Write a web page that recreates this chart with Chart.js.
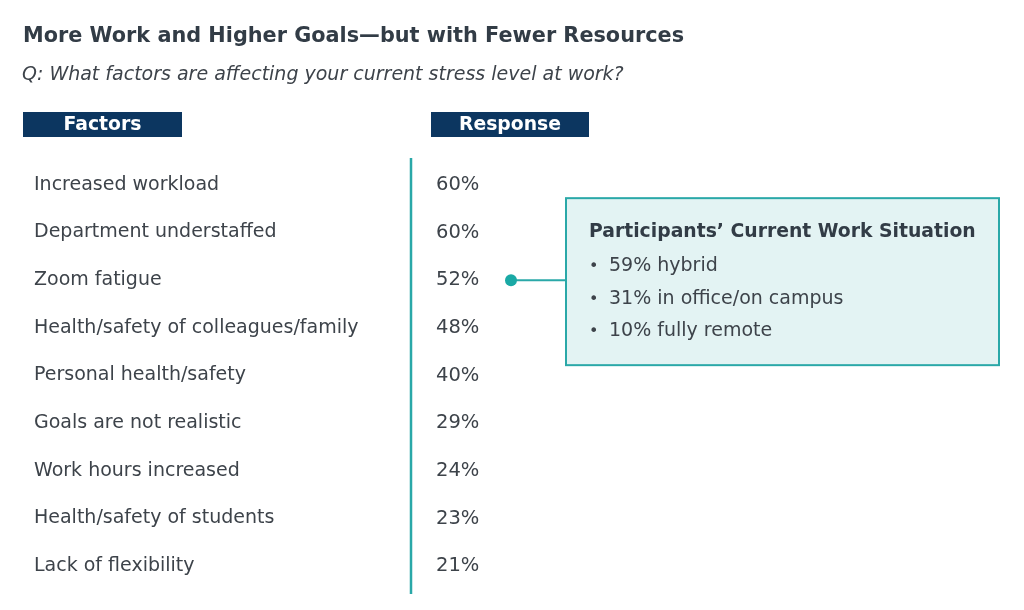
<!DOCTYPE html>
<html>
<head>
<meta charset="utf-8">
<script src="https://cdn.jsdelivr.net/npm/chart.js@4"></script>
<style>
  html, body { margin: 0; padding: 0; background: #fff; }
  #wrap { width: 1024px; height: 610px; position: relative; }
</style>
</head>
<body>
<div id="wrap"><canvas id="grafico"></canvas></div>
<script>
// Datos de la encuesta
const factores = [
    "Increased workload",
    "Department understaffed",
    "Zoom fatigue",
    "Health/safety of colleagues/family",
    "Personal health/safety",
    "Goals are not realistic",
    "Work hours increased",
    "Health/safety of students",
    "Lack of flexibility"
];
const respuestas = [60, 60, 52, 48, 40, 29, 24, 23, 21];

// Recuadro lateral
const situacionTitulo = "Participants\u2019 Current Work Situation";
const situacionItems = ["59% hybrid", "31% in office/on campus", "10% fully remote"];
const filaDestacada = "Zoom fatigue";

const titulo = "More Work and Higher Goals\u2014but with Fewer Resources";
const subtitulo = "Q: What factors are affecting your current stress level at work?";
const encabezados = ["Factors", "Response"];

const FUENTE = "'DejaVu Sans', Verdana, sans-serif";
const TEXTO = "#3d434a";
const AZUL = "#0c3660";
const TURQUESA = "#2aa8a8";

// Plugin para dibujar títulos, encabezados, porcentajes y el recuadro
const decoraciones = {
    id: "decoraciones",
    afterDraw(chart) {
        const ctx = chart.ctx;
        const y = chart.scales.y;
        const area = chart.chartArea;
        ctx.save();

        // Título y pregunta
        ctx.fillStyle = "#323c46";
        ctx.textBaseline = "middle";
        ctx.textAlign = "left";
        ctx.font = "bold 20.8px " + FUENTE;
        ctx.fillText(titulo, 23, 37);
        ctx.fillStyle = TEXTO;
        ctx.font = "italic 19px " + FUENTE;
        ctx.fillText(subtitulo, 22, 75);

        // Encabezados
        const cajas = [[23, 159], [431, 158]];
        ctx.font = "bold 18.8px " + FUENTE;
        ctx.textAlign = "center";
        encabezados.forEach(function (txt, i) {
            ctx.fillStyle = AZUL;
            ctx.fillRect(cajas[i][0], 112, cajas[i][1], 25);
            ctx.fillStyle = "#ffffff";
            ctx.fillText(txt, cajas[i][0] + cajas[i][1] / 2, 125);
        });

        // Línea vertical
        ctx.strokeStyle = TURQUESA;
        ctx.lineWidth = 2.5;
        ctx.beginPath();
        ctx.moveTo(area.left, area.top - 3);
        ctx.lineTo(area.left, area.bottom + 4);
        ctx.stroke();

        // Porcentajes
        ctx.fillStyle = TEXTO;
        ctx.textAlign = "left";
        ctx.font = "19.5px " + FUENTE;
        respuestas.forEach(function (v, i) {
            ctx.fillText(v + "%", area.left + 25, y.getPixelForValue(i));
        });

        // Recuadro de situación actual
        const yf = y.getPixelForValue(factores.indexOf(filaDestacada));
        const bx = 566, bw = 433, by = yf - 82, bh = 167;
        ctx.fillStyle = "#e3f3f3";
        ctx.fillRect(bx, by, bw, bh);
        ctx.strokeStyle = TURQUESA;
        ctx.lineWidth = 2;
        ctx.strokeRect(bx, by, bw, bh);

        ctx.beginPath();
        ctx.moveTo(511, yf);
        ctx.lineTo(bx, yf);
        ctx.stroke();
        ctx.fillStyle = "#1aa9a5";
        ctx.beginPath();
        ctx.arc(511, yf, 6, 0, Math.PI * 2);
        ctx.fill();

        ctx.fillStyle = "#323c46";
        ctx.font = "bold 18.8px " + FUENTE;
        ctx.fillText(situacionTitulo, 589, by + 34);
        situacionItems.forEach(function (txt, i) {
            const ty = by + 68 + i * 32.5;
            ctx.fillStyle = TEXTO;
            ctx.font = "16px " + FUENTE;
            ctx.fillText("\u2022", 589, ty + 1);
            ctx.font = "19px " + FUENTE;
            ctx.fillText(txt, 609, ty);
        });

        ctx.restore();
    }
};

const ctx = document.getElementById("grafico").getContext("2d");
const chart = new Chart(ctx, {
    type: "bar",
    data: {
        labels: factores,
        datasets: [{
            label: "Response",
            data: respuestas,
            backgroundColor: "rgba(0,0,0,0)",
            borderWidth: 0
        }]
    },
    options: {
        indexAxis: "y",
        responsive: true,
        maintainAspectRatio: false,
        animation: false,
        layout: { padding: { left: 34, top: 161, bottom: 20, right: 24 } },
        plugins: {
            legend: { display: false },
            tooltip: { enabled: false }
        },
        scales: {
            x: { display: false, min: 0, max: 100 },
            y: {
                afterFit: function (scale) { scale.width = 377; },
                border: { display: false },
                grid: { display: false },
                ticks: {
                    crossAlign: "far",
                    padding: 0,
                    color: TEXTO,
                    font: { family: FUENTE, size: 19 }
                }
            }
        }
    },
    plugins: [decoraciones]
});
</script>
</body>
</html>
